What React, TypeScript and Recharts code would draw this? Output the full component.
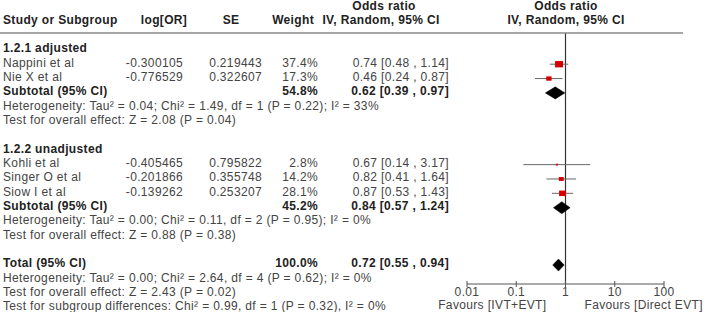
import { ComposedChart, Scatter, XAxis, YAxis, ErrorBar, ReferenceLine } from "recharts";

const studyNames = ["Nappini et al", "Nie X et al", "Kohli et al", "Singer O et al", "Siow I et al"];
const studyGroup = [0, 0, 1, 1, 1];
const logOR = ["-0.300105", "-0.776529", "-0.405465", "-0.201866", "-0.139262"];
const seValues = ["0.219443", "0.322607", "0.795822", "0.355748", "0.253207"];
const weights = [37.4, 17.3, 2.8, 14.2, 28.1];
const oddsRatio = [0.74, 0.46, 0.67, 0.82, 0.87];
const ciLow = [0.48, 0.24, 0.14, 0.41, 0.53];
const ciHigh = [1.14, 0.87, 3.17, 1.64, 1.43];

const groupNames = ["1.2.1 adjusted", "1.2.2 unadjusted"];
const subWeights = [54.8, 45.2];
const subOR = [0.62, 0.84];
const subLow = [0.39, 0.57];
const subHigh = [0.97, 1.24];
const subHetero = [
  "Heterogeneity: Tau² = 0.04; Chi² = 1.49, df = 1 (P = 0.22); I² = 33%",
  "Heterogeneity: Tau² = 0.00; Chi² = 0.11, df = 2 (P = 0.95); I² = 0%",
];
const subEffect = ["Test for overall effect: Z = 2.08 (P = 0.04)", "Test for overall effect: Z = 0.88 (P = 0.38)"];

const totalOR = [0.72];
const totalLow = [0.55];
const totalHigh = [0.94];
const totalNotes = [
  "Heterogeneity: Tau² = 0.00; Chi² = 2.64, df = 4 (P = 0.62); I² = 0%",
  "Test for overall effect: Z = 2.43 (P = 0.02)",
  "Test for subgroup differences: Chi² = 0.99, df = 1 (P = 0.32), I² = 0%",
];

const xTicks = [0.01, 0.1, 1, 10, 100];
const favours = ["Favours [IVT+EVT]", "Favours [Direct EVT]"];

const FONT = "'Liberation Sans', Arial, sans-serif";
const MARK = 0.13;
const DH = 0.42;

type Cell = { t: string; x: number; a: "start" | "middle" | "end"; b?: boolean };
const rowCells: Record<number, Cell[]> = {};
const studyPoints: { x: number; y: number; err: number[]; w: number }[] = [];
const diamonds: { x: number; y: number }[][] = [];

const ciText = (o: number, l: number, h: number) => `${o.toFixed(2)} [${l.toFixed(2)} , ${h.toFixed(2)}]`;
const diamondOf = (o: number, l: number, h: number, r: number) => [
  { x: l, y: r + MARK },
  { x: o, y: r + MARK - DH },
  { x: h, y: r + MARK },
  { x: o, y: r + MARK + DH },
];

rowCells[-3] = [
  { t: "Odds ratio", x: 384, a: "middle", b: true },
  { t: "Odds ratio", x: 566, a: "middle", b: true },
];
rowCells[-2] = [
  { t: "Study or Subgroup", x: 3, a: "start", b: true },
  { t: "log[OR]", x: 164, a: "middle", b: true },
  { t: "SE", x: 231, a: "middle", b: true },
  { t: "Weight", x: 314, a: "end", b: true },
  { t: "IV, Random, 95% CI", x: 381, a: "middle", b: true },
  { t: "IV, Random, 95% CI", x: 566, a: "middle", b: true },
];

let r = 0;
groupNames.forEach((g, gi) => {
  rowCells[r++] = [{ t: g, x: 3, a: "start", b: true }];
  studyNames.forEach((n, i) => {
    if (studyGroup[i] !== gi) return;
    rowCells[r] = [
      { t: n, x: 3, a: "start" },
      { t: logOR[i], x: 183, a: "end" },
      { t: seValues[i], x: 262, a: "end" },
      { t: weights[i].toFixed(1) + "%", x: 318, a: "end" },
      { t: ciText(oddsRatio[i], ciLow[i], ciHigh[i]), x: 449, a: "end" },
    ];
    studyPoints.push({
      x: oddsRatio[i],
      y: r + MARK,
      err: [oddsRatio[i] - ciLow[i], ciHigh[i] - oddsRatio[i]],
      w: weights[i],
    });
    r++;
  });
  rowCells[r] = [
    { t: "Subtotal (95% CI)", x: 3, a: "start", b: true },
    { t: subWeights[gi].toFixed(1) + "%", x: 318, a: "end", b: true },
    { t: ciText(subOR[gi], subLow[gi], subHigh[gi]), x: 449, a: "end", b: true },
  ];
  diamonds.push(diamondOf(subOR[gi], subLow[gi], subHigh[gi], r));
  r++;
  rowCells[r++] = [{ t: subHetero[gi], x: 3, a: "start" }];
  rowCells[r++] = [{ t: subEffect[gi], x: 3, a: "start" }];
  r++;
});
rowCells[r] = [
  { t: "Total (95% CI)", x: 3, a: "start", b: true },
  { t: "100.0%", x: 318, a: "end", b: true },
  { t: ciText(totalOR[0], totalLow[0], totalHigh[0]), x: 449, a: "end", b: true },
];
diamonds.push(diamondOf(totalOR[0], totalLow[0], totalHigh[0], r));
r++;
totalNotes.forEach((n) => {
  rowCells[r++] = [{ t: n, x: 3, a: "start" }];
});

const rowTicks = Object.keys(rowCells).map(Number).sort((a, b) => a - b);

const RowTick = (props: any) => {
  const v = props.payload.value;
  const cells = rowCells[v] ?? [];
  const shift = v === -3 ? 0.8 : v === -2 ? 0.8 : 0;
  return (
    <g>
      {cells.map((c, i) => (
        <text
          key={i}
          x={c.x}
          y={props.y + shift}
          dy="0.35em"
          textAnchor={c.a}
          fontFamily={FONT}
          fontSize={12}
          letterSpacing={0.35}
          fontWeight={c.b ? "bold" : "normal"}
          fill={c.b ? "#222" : "#444"}
        >
          {c.t}
        </text>
      ))}
      {v === -2 && <line x1={0} x2={683} y1={props.y + 13.7} y2={props.y + 13.7} stroke="#888" strokeWidth={1.5} />}
    </g>
  );
};

const AxisTick = (props: any) => {
  const { x, y, payload } = props;
  return (
    <g>
      <line x1={x} x2={x} y1={y - 3} y2={y + 3} stroke="#555" />
      <text x={x} y={y + 12} textAnchor="middle" fontFamily={FONT} fontSize={12} letterSpacing={0.35} fill="#444">
        {String(payload.value)}
      </text>
      {payload.value === 1 && (
        <>
          <text x={x - 19} y={y + 24.5} textAnchor="end" fontFamily={FONT} fontSize={12} letterSpacing={0.35} fill="#444">
            {favours[0]}
          </text>
          <text x={x + 19} y={y + 24.5} textAnchor="start" fontFamily={FONT} fontSize={12} letterSpacing={0.35} fill="#444">
            {favours[1]}
          </text>
        </>
      )}
    </g>
  );
};

const StudyMark = (p: any) => {
  const s = 1.3 * Math.sqrt(p.payload.w);
  return <rect x={p.cx - s / 2} y={p.cy - s * 0.4} width={s} height={s * 0.8} fill="#d40000" />;
};

const DiamondPath = (p: any) => {
  const d = p.points.map((q: any, i: number) => `${i ? "L" : "M"}${q.x},${q.y}`).join("") + "Z";
  return <path d={d} fill="#000" stroke="#000" strokeWidth={0.5} />;
};

const App = () => {
  return (
    <div>
      <style>{"body{margin:0;background:#fff}"}</style>
      <ComposedChart width={709} height={312} margin={{ top: 0, right: 45, bottom: 0, left: 0 }}>
        <XAxis
          type="number"
          dataKey="x"
          scale="log"
          domain={[0.01, 100]}
          ticks={xTicks}
          allowDataOverflow
          height={28}
          tickSize={0}
          tickMargin={0}
          tickLine={false}
          interval={0}
          stroke="#555"
          tick={AxisTick}
        />
        <YAxis
          type="number"
          dataKey="y"
          domain={[-3.345, 16.45]}
          reversed
          allowDataOverflow
          ticks={rowTicks}
          interval={0}
          width={467}
          axisLine={false}
          tickLine={false}
          tick={RowTick}
        />
        <ReferenceLine
          segment={[
            { x: 1, y: -1.04 },
            { x: 1, y: 16.45 },
          ]}
          stroke="#333"
          strokeWidth={1.2}
        />
        <Scatter data={studyPoints} shape={StudyMark} isAnimationActive={false}>
          <ErrorBar dataKey="err" direction="x" width={0} stroke="#666" strokeWidth={1} />
        </Scatter>
        {diamonds.map((d, i) => (
          <Scatter key={i} data={d} shape={() => <g />} line={DiamondPath} fill="#000" isAnimationActive={false} />
        ))}
      </ComposedChart>
    </div>
  );
};

export default App;
